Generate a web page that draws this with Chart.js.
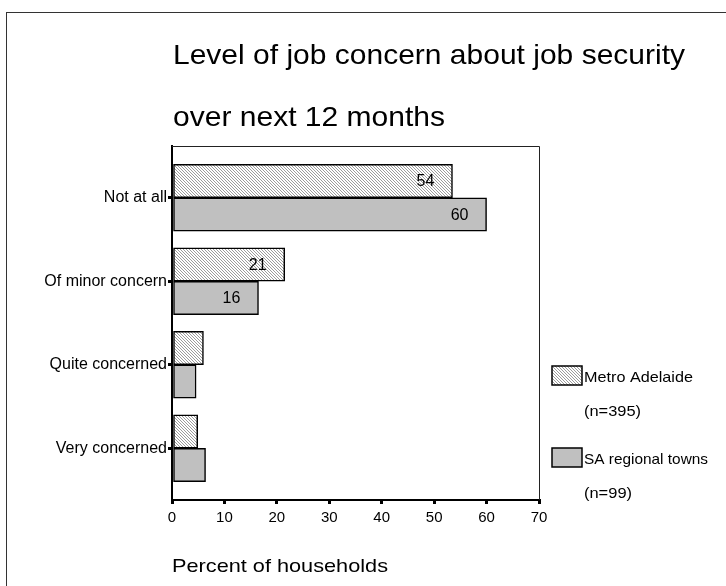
<!DOCTYPE html>
<html>
<head>
<meta charset="utf-8">
<script src="https://cdn.jsdelivr.net/npm/chart.js@4/dist/chart.umd.min.js"></script>
<style>
  html, body { margin: 0; padding: 0; background: #fff; }
  #wrap { width: 726px; height: 586px; }
</style>
</head>
<body>
<div id="wrap"><canvas id="graph" width="726" height="586"></canvas></div>
<script>
// data
const categories = ['Not at all', 'Of minor concern', 'Quite concerned', 'Very concerned']
const metroValues = [53.5, 21.5, 6.0, 4.9]
const regionalValues = [60.0, 16.5, 4.6, 6.4]
const metroLabels = ['54', '21', '', '']
const regionalLabels = ['60', '16', '', '']
const xTicks = [0, 10, 20, 30, 40, 50, 60, 70]
const seriesNames = ['Metro Adelaide', 'SA regional towns']
const seriesNotes = ['(n=395)', '(n=99)']
const titleLines = ['Level of job concern about job security', 'over next 12 months']
const xTitle = 'Percent of households'

const FONT = 'Liberation Sans, Arial, sans-serif'

// little hatch for Metro bars
function hatch() {
    const c = document.createElement('canvas')
    c.width = 3; c.height = 3
    const g = c.getContext('2d')
    g.fillStyle = '#fff'
    g.fillRect(0, 0, 3, 3)
    g.fillStyle = '#9c9c9c'
    for (let i = 0; i < 3; i++) g.fillRect(i, i, 1, 1)
    return g.createPattern(c, 'repeat')
}

// draw text squeezed/stretched to a given width
function fitText(c, txt, x, y, w) {
    const nat = c.measureText(txt).width
    c.save()
    c.translate(x, y)
    c.scale(w / nat, 1)
    c.fillText(txt, 0, 0)
    c.restore()
}

const ctx = document.getElementById('graph').getContext('2d')
const metroFill = hatch()
const regionalFill = '#c0c0c0'

const toPoints = vals => vals.map((v, i) => ({ x: v, y: i }))

// the extra bits: frame, titles, bar labels, legend
const decor = {
    id: 'decor',
    beforeDraw(chart) {
        const c = chart.ctx
        c.save()
        c.fillStyle = '#fff'
        c.fillRect(0, 0, chart.width, chart.height)
        c.strokeStyle = '#333'
        c.lineWidth = 1
        c.strokeRect(6.5, 12.5, 740, 600)
        c.restore()
    },
    afterDraw(chart) {
        const c = chart.ctx
        const a = chart.chartArea
        c.save()
        // plot frame (top + right)
        c.strokeStyle = '#222'
        c.lineWidth = 1
        c.beginPath()
        c.moveTo(a.left, a.top + 0.5)
        c.lineTo(a.right + 0.5, a.top + 0.5)
        c.lineTo(a.right + 0.5, a.bottom)
        c.stroke()

        // title
        c.fillStyle = '#000'
        c.textBaseline = 'middle'
        c.textAlign = 'left'
        c.font = '28px ' + FONT
        fitText(c, titleLines[0], 173, 56, 512)
        fitText(c, titleLines[1], 173, 118, 272)

        // x axis title
        c.font = '19px ' + FONT
        fitText(c, xTitle, 172, 567, 216)

        // value labels inside bars
        c.font = '16px ' + FONT
        c.textAlign = 'center'
        const labelSets = [metroLabels, regionalLabels]
        chart.data.datasets.forEach((ds, di) => {
            chart.getDatasetMeta(di).data.forEach((bar, i) => {
                const txt = labelSets[di][i]
                if (!txt) return
                c.fillText(txt, bar.x - 27, bar.y + 1)
            })
        })

        // legend
        const fills = [metroFill, regionalFill]
        c.font = '15px ' + FONT
        c.textAlign = 'left'
        seriesNames.forEach((name, i) => {
            const y = 366 + i * 82
            c.fillStyle = fills[i]
            c.fillRect(552, y, 30, 19)
            c.strokeStyle = '#000'
            c.lineWidth = 1.5
            c.strokeRect(552, y, 30, 19)
            c.fillStyle = '#000'
            fitText(c, name, 584, y + 12, i === 0 ? 109 : 124)
            fitText(c, seriesNotes[i], 584, y + 46, i === 0 ? 57 : 48)
        })
        c.restore()
    }
}

new Chart(ctx, {
    type: 'bar',
    data: {
        datasets: [{
            label: seriesNames[0],
            data: toPoints(metroValues),
            backgroundColor: metroFill,
            borderColor: '#000',
            borderWidth: 1.5,
            borderSkipped: false,
            barThickness: 33.4
        }, {
            label: seriesNames[1],
            data: toPoints(regionalValues),
            backgroundColor: regionalFill,
            borderColor: '#000',
            borderWidth: 1.5,
            borderSkipped: false,
            barThickness: 33.4
        }]
    },
    options: {
        indexAxis: 'y',
        responsive: false,
        animation: false,
        layout: { padding: { top: 146, right: 187, left: 0, bottom: 0 } },
        plugins: {
            legend: { display: false },
            tooltip: { enabled: false }
        },
        scales: {
            x: {
                type: 'linear',
                min: 0,
                max: 70,
                afterBuildTicks: s => { s.ticks = xTicks.map(v => ({ value: v })) },
                afterFit: s => { s.height = 86 },
                grid: { drawOnChartArea: false, color: '#000', tickLength: 4, tickWidth: 3, lineWidth: 3 },
                border: { color: '#000', width: 2 },
                ticks: { color: '#000', font: { family: FONT, size: 15 }, padding: 5, maxRotation: 0 }
            },
            y: {
                type: 'linear',
                offset: false,
                min: -0.62,
                max: 3.62,
                reverse: true,
                afterBuildTicks: s => { s.ticks = categories.map((c, i) => ({ value: i })) },
                afterFit: s => { s.width = 172 },
                grid: { offset: false, drawOnChartArea: false, color: '#000', tickLength: 4, tickWidth: 3, lineWidth: 3 },
                border: { color: '#000', width: 2 },
                ticks: {
                    color: '#000',
                    font: { family: FONT, size: 16 },
                    padding: 1,
                    callback: v => categories[v]
                }
            }
        }
    },
    plugins: [decor]
})
</script>
</body>
</html>
